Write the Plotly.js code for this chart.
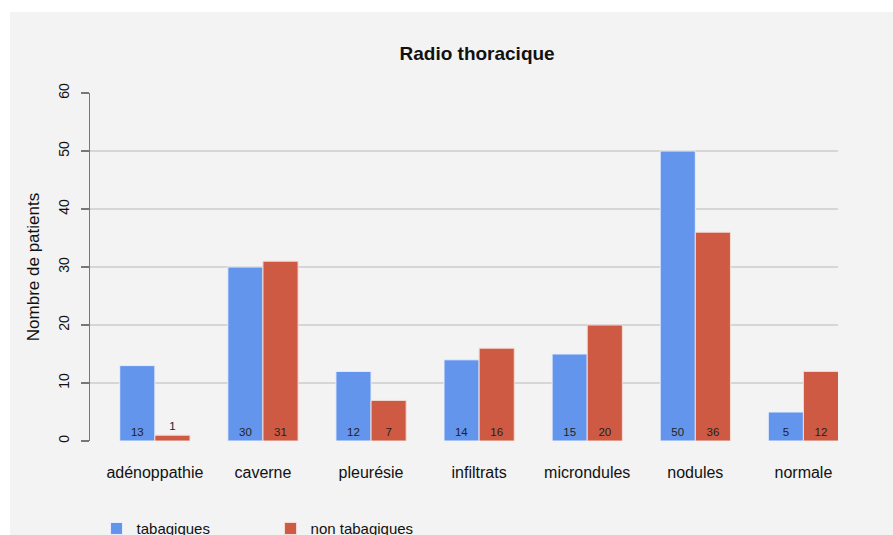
<!DOCTYPE html>
<html>
<head>
<meta charset="utf-8">
<script src="https://cdn.plot.ly/plotly-3.0.1.min.js"></script>
<style>
  html, body { margin: 0; padding: 0; background: #ffffff; }
  #chart { position: absolute; left: 10px; top: 12px; width: 883px; height: 523px; }
</style>
</head>
<body>
<div id="chart"></div>
<script>
const categories = ["adénoppathie", "caverne", "pleurésie", "infiltrats", "microndules", "nodules", "normale"];
const tabagiques = [13, 30, 12, 14, 15, 50, 5];
const nonTabagiques = [1, 31, 7, 16, 20, 36, 12];
const seriesNames = ["tabagiques", "non tabagiques"];
const yTicks = [0, 10, 20, 30, 40, 50, 60];

const FONT = "Liberation Sans, Arial, sans-serif";

function labelPositions(vals) {
  return vals.map(v => v < 3 ? "outside" : "inside");
}

const traces = [
  {
    type: "bar",
    name: seriesNames[0],
    x: categories,
    y: tabagiques,
    text: tabagiques.map(String),
    textposition: labelPositions(tabagiques),
    insidetextanchor: "start",
    textfont: { family: FONT, size: 11.5, color: "#222222" },
    outsidetextfont: { family: FONT, size: 11.5, color: "#222222" },
    marker: { color: "#6495ED", line: { color: "#e8eefc", width: 1 } },
    hoverinfo: "none",
    cliponaxis: false
  },
  {
    type: "bar",
    name: seriesNames[1],
    x: categories,
    y: nonTabagiques,
    text: nonTabagiques.map(String),
    textposition: labelPositions(nonTabagiques),
    insidetextanchor: "start",
    textfont: { family: FONT, size: 11.5, color: "#222222" },
    outsidetextfont: { family: FONT, size: 11.5, color: "#222222" },
    marker: { color: "#CF5A43", line: { color: "#f3dcd6", width: 1 } },
    hoverinfo: "none",
    cliponaxis: false
  }
];

const layout = {
  width: 883,
  height: 523,
  paper_bgcolor: "#f3f3f3",
  plot_bgcolor: "#f3f3f3",
  margin: { l: 80, r: 55, t: 81, b: 94 },
  barmode: "group",
  bargap: 0.35,
  bargroupgap: 0.0,
  title: {
    text: "<b>Radio thoracique</b>",
    font: { family: FONT, size: 19, color: "#111111" },
    x: 0.529, xref: "container", xanchor: "center",
    y: 0.92, yref: "container", yanchor: "middle"
  },
  xaxis: {
    type: "category",
    range: [-0.6, 6.32],
    showgrid: false,
    zeroline: false,
    showline: false,
    ticks: "",
    ticklabelstandoff: 20,
    tickfont: { family: FONT, size: 16, color: "#111111" }
  },
  yaxis: {
    range: [0, 60],
    tickvals: yTicks,
    ticktext: yTicks.map(String),
    tickangle: -90,
    showgrid: true,
    gridcolor: "#d6d6d6",
    gridwidth: 1.5,
    zeroline: false,
    showline: true,
    linecolor: "#777777",
    linewidth: 1.5,
    ticks: "outside",
    ticklen: 8,
    tickcolor: "#777777",
    tickwidth: 1.5,
    ticklabelstandoff: 6,
    tickfont: { family: FONT, size: 14, color: "#111111" },
    title: {
      text: "Nombre de patients",
      font: { family: FONT, size: 17, color: "#111111" },
      standoff: 12
    }
  },
  showlegend: true,
  legend: {
    orientation: "h",
    xref: "container",
    x: 0.098, xanchor: "left",
    yref: "container",
    y: 0.012, yanchor: "middle",
    bgcolor: "rgba(0,0,0,0)",
    font: { family: FONT, size: 15, color: "#111111" },
    entrywidth: 129,
    entrywidthmode: "pixels",
    traceorder: "normal"
  }
};

Plotly.newPlot("chart", traces, layout, { displayModeBar: false, staticPlot: true });
</script>
</body>
</html>
